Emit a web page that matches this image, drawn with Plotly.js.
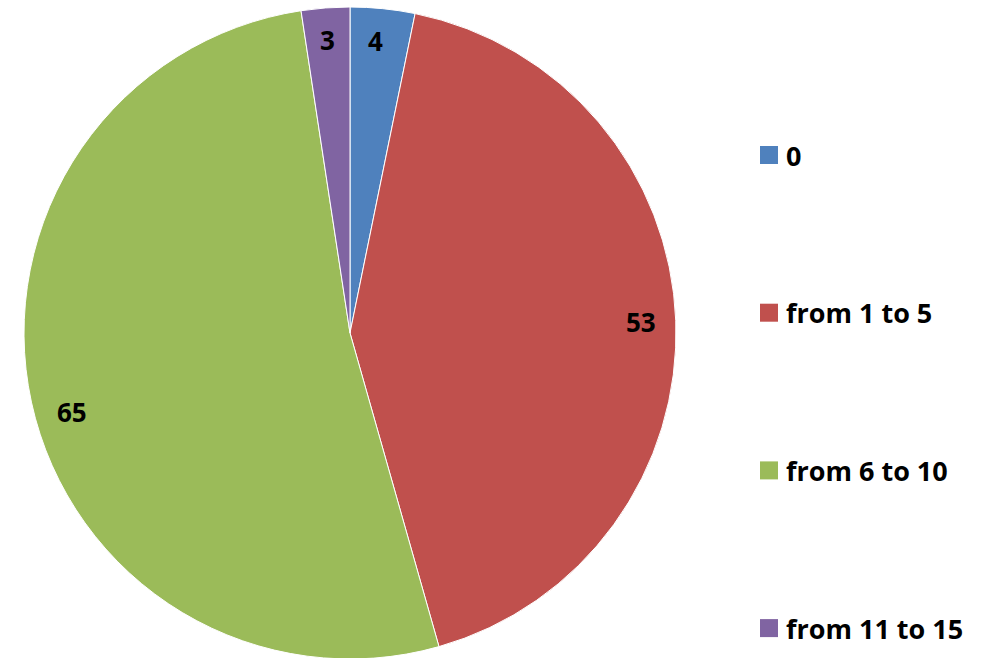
<!DOCTYPE html>
<html>
<head>
<meta charset="utf-8">
<script src="https://cdn.plot.ly/plotly-3.0.1.min.js"></script>
<style>
html,body{margin:0;padding:0;overflow:hidden;background:#fff;}
#chart{width:987px;height:660px;}
</style>
</head>
<body>
<div id="chart"></div>
<script>
const categories = ["0", "from 1 to 5", "from 6 to 10", "from 11 to 15"];
const values = [4, 53, 65, 3];
const colors = ["#4F81BD", "#C0504D", "#9BBB59", "#8064A2"];

const W = 987, H = 660;
const FONT = "'Open Sans', sans-serif";
// pie placement (pixels)
const cx = 350, cy = 333, R = 326;
const dom = {
  x: [(cx - R) / W, (cx + R) / W],
  y: [(H - (cy + R)) / H, (H - (cy - R)) / H]
};

const trace = {
  type: "pie",
  labels: categories,
  values: values,
  sort: false,
  direction: "clockwise",
  rotation: 0,
  textinfo: "none",
  hoverinfo: "label+value",
  marker: {colors: colors, line: {color: "#ffffff", width: 1}},
  domain: dom,
  showlegend: false
};

// value labels near the rim, positioned from the data angles
const total = values.reduce((a, b) => a + b, 0);
const annotations = [];
let cum = 0;
const labelFrac = [0.9, 0.9, 0.89, 0.9];
const labelShift = [[-4, 0], [-2, 0], [6, -17], [0, 0]];
values.forEach((v, i) => {
  const mid = (cum + v / 2) / total * 2 * Math.PI;
  cum += v;
  const r = R * labelFrac[i];
  const px = cx + r * Math.sin(mid);
  const py = cy - r * Math.cos(mid);
  annotations.push({
    x: px / W, y: 1 - py / H, xref: "paper", yref: "paper",
    text: "<b>" + v + "</b>", showarrow: false,
    font: {family: FONT, size: 26, color: "#000"},
    xanchor: "center", yanchor: "middle",
    xshift: labelShift[i][0], yshift: labelShift[i][1]
  });
});

// custom legend built from categories / colors
const shapes = [];
const legY0 = 155, legStep = 157.7, legX = 760, sq = 18;
categories.forEach((c, i) => {
  const y = legY0 + i * legStep;
  shapes.push({
    type: "rect", xref: "paper", yref: "paper",
    x0: legX / W, x1: (legX + sq) / W,
    y0: 1 - (y + sq / 2) / H, y1: 1 - (y - sq / 2) / H,
    fillcolor: colors[i], line: {width: 0}
  });
  annotations.push({
    x: (legX + sq + 6) / W, y: 1 - y / H, xref: "paper", yref: "paper",
    text: "<b>" + c + "</b>", showarrow: false,
    font: {family: FONT, size: 27, color: "#000"},
    xanchor: "left", yanchor: "middle"
  });
});

const layout = {
  width: W, height: H,
  margin: {l: 0, r: 0, t: 0, b: 0},
  paper_bgcolor: "#ffffff",
  showlegend: false,
  annotations: annotations,
  shapes: shapes
};

Plotly.newPlot("chart", [trace], layout, {displayModeBar: false, staticPlot: true});
</script>
</body>
</html>
